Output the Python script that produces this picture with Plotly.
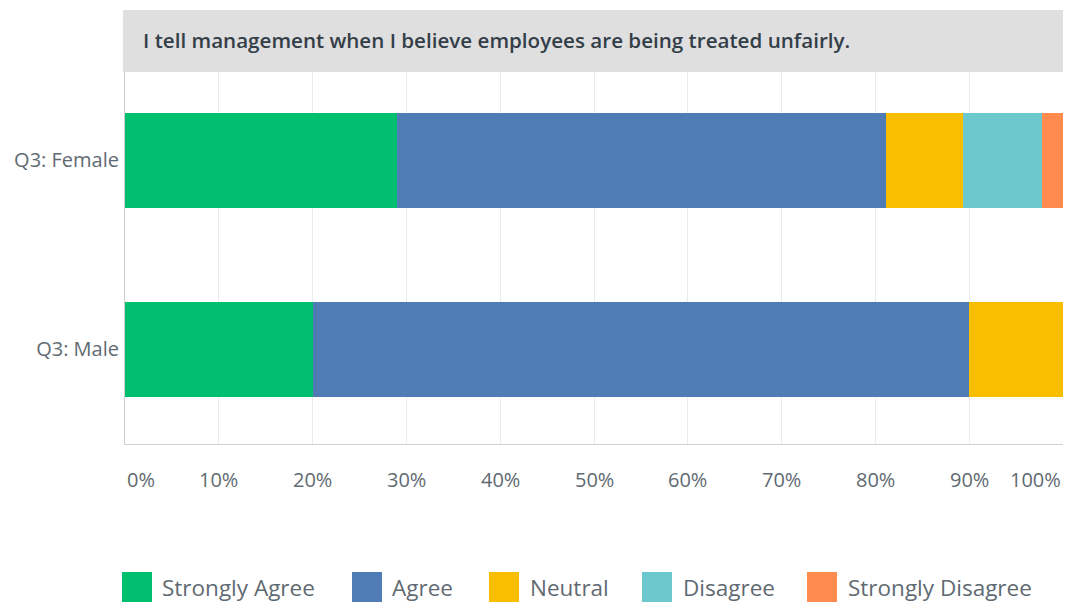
import plotly.graph_objects as go

categories = ["Q3: Female", "Q3: Male"]
series_names = ["Strongly Agree", "Agree", "Neutral", "Disagree", "Strongly Disagree"]
colors = ["#00bf6f", "#507cb6", "#f9be00", "#6bc8cd", "#ff8b4f"]
strongly_agree = [29.0, 20.0]
agree = [52.1, 70.0]
neutral = [8.2, 10.0]
disagree = [8.5, 0.0]
strongly_disagree = [2.2, 0.0]
values = [strongly_agree, agree, neutral, disagree, strongly_disagree]
tick_vals = [0, 10, 20, 30, 40, 50, 60, 70, 80, 90, 100]
tick_text = ["0%", "10%", "20%", "30%", "40%", "50%", "60%", "70%", "80%", "90%", "100%"]
title_text = "I tell management when I believe employees are being treated unfairly."

FONT = "Open Sans"
TXT = "#5f6a72"

fig = go.Figure()
for name, col, vals in zip(series_names, colors, values):
    fig.add_trace(go.Bar(
        y=categories, x=vals, name=name, orientation="h",
        marker=dict(color=col, line=dict(width=0)),
        width=0.5, showlegend=False,
        hovertemplate="%{y}: %{x:.1f}%<extra>" + name + "</extra>",
    ))

W, H = 1086, 613
L, R, T, B = 125, 23, 72, 169
pw, ph = W - L - R, H - T - B

def px(x):
    return (x - L) / pw

def py(y):
    return (H - B - y) / ph

annotations = []
# x tick labels
for i, (v, t) in enumerate(zip(tick_vals, tick_text)):
    anchor = "left" if i == 0 else ("right" if i == len(tick_vals) - 1 else "center")
    annotations.append(dict(x=v, y=py(480), xref="x", yref="paper", text=t,
                            showarrow=False, xanchor=anchor, yanchor="middle",
                            font=dict(family=FONT, size=20, color=TXT)))
# title band text
annotations.append(dict(x=px(141), y=py(40), xref="paper", yref="paper", text=title_text,
                        showarrow=False, xanchor="left", yanchor="middle",
                        font=dict(family=FONT, size=20.6, color="#333e48", weight=600)))

shapes = [dict(type="rect", xref="paper", yref="paper",
               x0=px(123), x1=px(1063), y0=py(72), y1=py(10),
               fillcolor="#dfdfdf", line=dict(width=0), layer="below")]

# custom legend
sq_x = [122, 352, 489, 642, 807]
txt_x = [160, 390, 528, 681, 846]
for name, col, sx, tx in zip(series_names, colors, sq_x, txt_x):
    shapes.append(dict(type="rect", xref="paper", yref="paper",
                       x0=px(sx), x1=px(sx + 30), y0=py(602), y1=py(572),
                       fillcolor=col, line=dict(width=0)))
    annotations.append(dict(x=px(tx), y=py(587), xref="paper", yref="paper", text=name,
                            showarrow=False, xanchor="left", yanchor="middle",
                            font=dict(family=FONT, size=22.5, color=TXT)))

fig.update_layout(
    barmode="stack",
    width=W, height=H,
    margin=dict(l=L, r=R, t=T, b=B, autoexpand=False),
    paper_bgcolor="white", plot_bgcolor="white",
    font=dict(family=FONT, color=TXT),
    shapes=shapes, annotations=annotations,
)
fig.update_xaxes(range=[0, 100], tickvals=tick_vals, showticklabels=False,
                 showgrid=True, gridcolor="#ebebeb", gridwidth=1,
                 showline=True, linecolor="#cfcfcf", linewidth=1,
                 zeroline=False, fixedrange=True, automargin=False)
fig.update_yaxes(range=[1.5, -0.468], showgrid=False,
                 showline=True, linecolor="#cfcfcf", linewidth=1,
                 tickfont=dict(family=FONT, size=20, color=TXT),
                 ticks="", ticklabelstandoff=1, fixedrange=True, automargin=False)

fig.write_html("out.html")
